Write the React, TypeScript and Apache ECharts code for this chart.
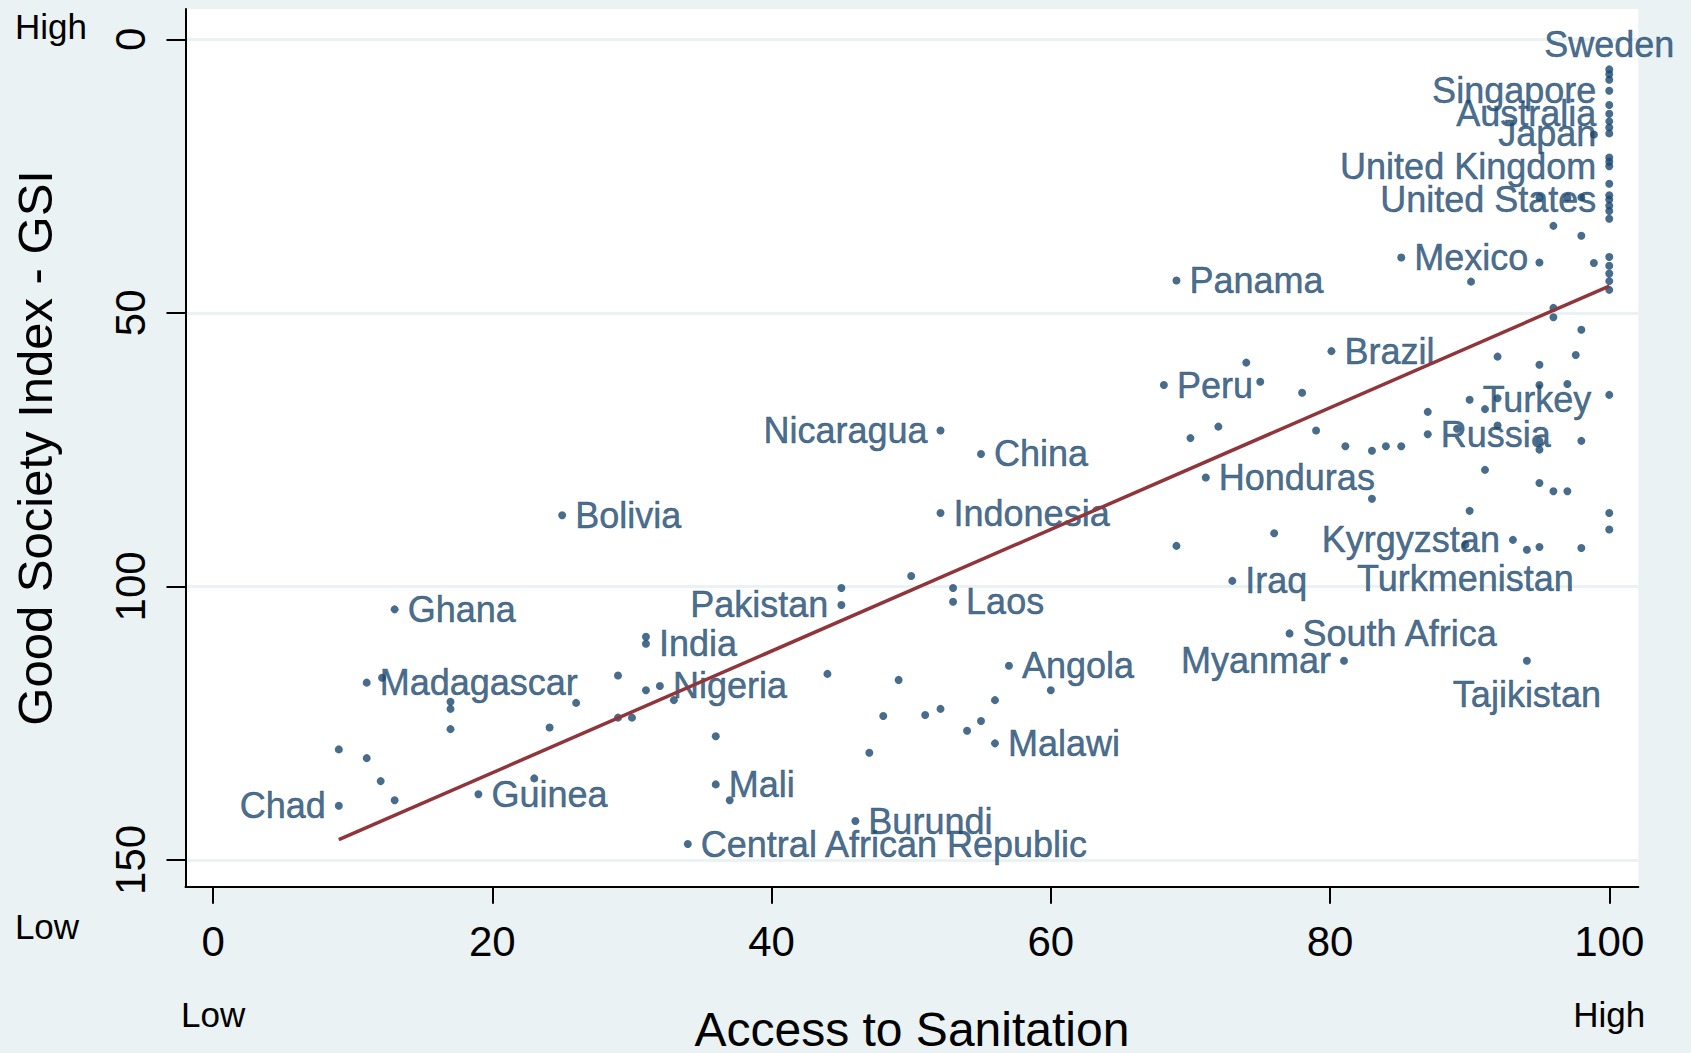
import React, { useEffect, useRef } from 'react';
import * as echarts from 'echarts';

const NAVY = '#1a476f';
const MAROON = '#90353b';
const PANEL = '#eaf2f3';
const FONT = '"Liberation Sans", Arial, Helvetica, sans-serif';

// Countries shown with a name: access to sanitation (%) and Good Society Index rank
const labelledNames = [
  'Sweden', 'Singapore', 'Australia', 'Japan', 'United Kingdom', 'United States',
  'Mexico', 'Panama', 'Brazil', 'Peru', 'Turkey', 'Russia', 'Nicaragua', 'China',
  'Honduras', 'Bolivia', 'Indonesia', 'Kyrgyzstan', 'Turkmenistan', 'Iraq',
  'Pakistan', 'Laos', 'Ghana', 'India', 'South Africa', 'Myanmar', 'Tajikistan',
  'Angola', 'Madagascar', 'Nigeria', 'Malawi', 'Mali', 'Guinea', 'Chad', 'Burundi',
  'Central African Republic',
];
const labelledSanitation = [
  100, 100, 100, 100, 100, 100,
  85.1, 69.0, 80.1, 68.1, 90.0, 87.0, 52.1, 55.0,
  71.1, 25.0, 52.1, 93.1, 89.7, 73.0,
  45.0, 53.0, 13.0, 31.0, 77.1, 81.0, 94.1,
  57.0, 11.0, 32.0, 56.0, 36.0, 19.0, 9.0, 46.0,
  34.0,
];
const labelledGsi = [
  5.5, 9.4, 13.6, 17.2, 23.2, 29.3,
  39.9, 44.1, 57.0, 63.2, 65.9, 72.2, 71.5, 75.8,
  80.1, 87.0, 86.6, 91.5, 92.4, 99.0,
  103.4, 102.8, 104.2, 110.5, 108.6, 113.6, 113.6,
  114.5, 117.6, 118.2, 128.7, 136.2, 138.0, 140.1, 142.9,
  147.1,
];

// Where each name sits around its marker (clock position, as in Stata's mlabvposition)
const labelClock: Record<string, number> = {
  Sweden: 12, Singapore: 9, Australia: 9, Japan: 9, 'United Kingdom': 9, 'United States': 9,
  Nicaragua: 9, Kyrgyzstan: 9, Pakistan: 9, Myanmar: 9, Chad: 9,
  Turkmenistan: 6, Tajikistan: 6,
};

// Countries plotted without a name
const otherSanitation = [
  100, 100, 100, 100, 100, 100, 100, 100, 100, 100, 100, 100, 100, 100, 100, 100, 100, 100, 100, 100,
  98.9, 95.0, 97.0, 98.0, 96.0, 98.0, 95.0, 98.9, 90.1, 96.0, 96.0,
  98.0, 92.0, 97.6, 95.0, 74.0, 75.0, 78.0, 95.0, 97.0, 92.0, 91.1, 87.0, 89.1, 92.0,
  95.0, 95.0, 98.0, 84.0, 85.1, 83.0, 81.1, 79.0, 72.0, 70.0,
  91.1, 95.0, 96.0, 97.0, 83.0, 90.0, 69.0, 76.0, 94.1, 95.0, 98.0,
  50.0, 45.0, 53.0, 44.0, 49.1, 60.0, 48.0, 51.0, 52.1, 56.0, 55.0, 54.0, 47.0, 37.0, 36.0,
  31.0, 29.0, 31.0, 33.0, 29.0, 30.0, 26.0, 24.1, 12.1, 17.0, 17.0, 17.0,
  9.0, 11.0, 12.0, 13.0, 23.0,
];
const otherGsi = [
  6.4, 7.4, 12.0, 15.0, 16.1, 21.6, 22.4, 26.4, 28.5, 30.4, 31.4, 32.8, 39.8, 41.4, 42.8, 44.2, 45.8, 65.0, 86.6, 89.6,
  17.4, 28.9, 28.9, 28.9, 34.1, 35.9, 40.8, 40.9, 44.3, 49.1, 50.8,
  53.1, 58.0, 57.7, 59.5, 59.1, 62.6, 64.6, 63.2, 63.0, 65.6, 67.6, 68.1, 71.2, 70.6,
  73.4, 75.0, 73.4, 74.4, 74.4, 75.2, 74.4, 71.5, 70.8, 72.9,
  78.7, 81.1, 82.6, 82.6, 84.0, 86.2, 92.6, 90.3, 93.3, 92.8, 93.0,
  98.1, 100.3, 100.3, 116.0, 117.1, 119.0, 123.7, 123.5, 122.4, 120.8, 124.6, 126.4, 130.4, 139.1, 127.4,
  109.2, 116.3, 119.0, 120.8, 124.0, 124.0, 121.3, 125.8, 116.7, 121.1, 122.4, 126.1,
  129.8, 131.4, 135.6, 139.1, 135.1,
];

// Linear fit of GSI on sanitation, drawn between the lowest and highest sanitation values
const fitSanitation = [9.0, 100];
const fitGsi = [146.3, 45.1];

const xTicks = [0, 20, 40, 60, 80, 100];
const yTicks = [0, 50, 100, 150];
const xEndNotes: Record<number, string> = { 0: 'Low', 100: 'High' };

function clockToPosition(clock: number | undefined) {
  if (clock === 12) return { position: 'top', distance: 3 };
  if (clock === 6) return { position: 'bottom', distance: 12 };
  if (clock === 9) return { position: 'left', distance: 9 };
  return { position: 'right', distance: 9 };
}

export default function App() {
  const ref = useRef<HTMLDivElement>(null);

  useEffect(() => {
    if (!ref.current) return;
    const chart = echarts.init(ref.current, undefined, { renderer: 'svg' });

    const labelledPoints = labelledNames.map((name, i) => {
      const place = clockToPosition(labelClock[name]);
      return {
        name,
        value: [labelledSanitation[i], labelledGsi[i]],
        label: {
          show: true,
          formatter: '{b}',
          position: place.position,
          distance: place.distance,
        },
      };
    });
    const otherPoints = otherSanitation.map((x, i) => ({ value: [x, otherGsi[i]] }));
    const fitLine = fitSanitation.map((x, i) => [x, fitGsi[i]]);

    chart.setOption({
      animation: false,
      backgroundColor: PANEL,
      textStyle: { fontFamily: FONT },
      grid: {
        left: 185.5,
        right: 52.7,
        top: 9,
        bottom: 166.3,
        show: true,
        backgroundColor: '#ffffff',
        borderWidth: 0,
        containLabel: false,
        outerBoundsMode: 'none',
      },
      xAxis: {
        type: 'value',
        min: -1.98,
        max: 102.08,
        name: 'Access to Sanitation',
        nameLocation: 'middle',
        nameGap: 123,
        nameMoveOverlap: false,
        nameTextStyle: { fontSize: 48, color: '#000', fontFamily: FONT, lineHeight: 40 },
        axisLine: { show: true, onZero: false, lineStyle: { color: '#000', width: 2 } },
        axisTick: {
          show: true,
          customValues: xTicks,
          length: 17,
          lineStyle: { color: '#000', width: 2 },
        },
        axisLabel: {
          customValues: xTicks,
          margin: 30,
          color: '#000',
          fontFamily: FONT,
          formatter: (v: number) =>
            xEndNotes[v] ? `{n|${v}}\n{s|${xEndNotes[v]}}` : `{n|${v}}`,
          rich: {
            n: { fontSize: 42, lineHeight: 50, color: '#000', fontFamily: FONT },
            s: { fontSize: 35, lineHeight: 95, color: '#000', fontFamily: FONT },
          },
        },
        splitLine: { show: false },
      },
      yAxis: {
        type: 'value',
        inverse: true,
        min: -5.54,
        max: 154.9,
        name: 'Good Society Index - GSI',
        nameLocation: 'middle',
        nameRotate: 90,
        nameGap: 126,
        nameMoveOverlap: false,
        nameTextStyle: { fontSize: 49, color: '#000', fontFamily: FONT, lineHeight: 49 },
        axisLine: { show: true, onZero: false, lineStyle: { color: '#000', width: 2 } },
        axisTick: {
          show: true,
          customValues: yTicks,
          length: 19,
          lineStyle: { color: '#000', width: 2 },
        },
        axisLabel: {
          customValues: yTicks,
          rotate: 90,
          margin: 34,
          fontSize: 42,
          lineHeight: 42,
          color: '#000',
          fontFamily: FONT,
        },
        splitLine: { show: true, lineStyle: { color: PANEL, width: 3 } },
      },
      graphic: [
        {
          type: 'text',
          x: 51,
          y: 26,
          style: {
            text: 'High',
            fontSize: 35,
            fontFamily: FONT,
            fill: '#000',
            textAlign: 'center',
            textVerticalAlign: 'middle',
          },
        },
        {
          type: 'text',
          x: 47,
          y: 926,
          style: {
            text: 'Low',
            fontSize: 35,
            fontFamily: FONT,
            fill: '#000',
            textAlign: 'center',
            textVerticalAlign: 'middle',
          },
        },
      ],
      series: [
        {
          type: 'scatter',
          z: 2,
          symbol: 'circle',
          symbolSize: 8,
          itemStyle: { color: NAVY },
          label: {
            color: NAVY,
            fontSize: 36,
            fontFamily: FONT,
            lineHeight: 36,
            textBorderColor: NAVY,
            textBorderWidth: 0.5,
          },
          data: [...otherPoints, ...labelledPoints],
        },
        {
          type: 'line',
          z: 3,
          symbol: 'none',
          lineStyle: { color: MAROON, width: 3.5 },
          data: fitLine,
        },
      ],
    });

    return () => chart.dispose();
  }, []);

  return (
    <div
      ref={ref}
      style={{ position: 'fixed', left: 0, top: 0, width: 1691, height: 1053 }}
    />
  );
}
